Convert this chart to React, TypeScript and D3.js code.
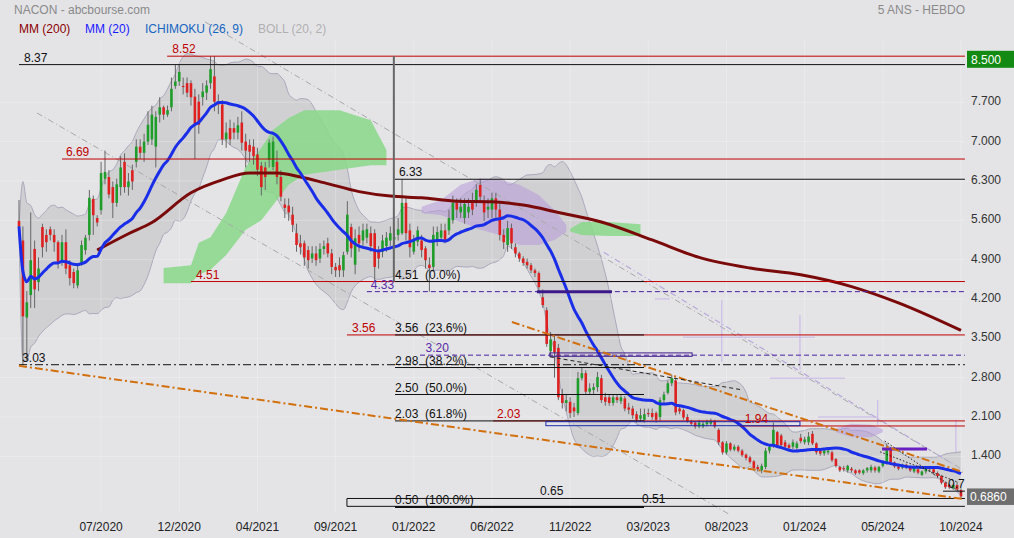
import React from "react";
import * as d3 from "d3";

// ---------- DATA (weekly bars, Mar 2020 -> Oct 2024) ----------
const OPEN = [
  5.59,5.24,3.87,4.27,5.09,4.5,5.48,5.34,5.44,5.34,
  5.21,4.89,5.21,4.8,4.68,4.44,4.84,5.07,5.34,5.98,
  5.64,5.78,6.34,6.37,6.19,5.91,6.19,6.64,6.19,6.49,
  6.64,6.91,6.8,7.0,7.04,6.91,7.48,7.61,7.48,7.61,
  7.99,8.07,7.99,8.04,8.04,7.8,7.71,7.79,7.87,8.04,
  8.16,7.71,7.66,7.04,7.24,7.24,7.16,7.34,7.0,6.94,
  6.91,6.77,6.57,6.54,6.68,6.55,6.64,6.37,5.88,5.86,
  5.7,5.37,5.19,5.19,5.07,4.92,5.01,4.92,5.09,5.19,
  5.01,4.77,4.8,4.71,5.04,5.48,4.81,5.34,5.24,5.29,
  5.37,5.37,5.04,5.04,5.14,5.24,5.26,5.34,5.37,5.91,
  5.42,5.04,5.22,5.24,5.1,4.81,4.77,5.24,5.29,5.42,
  5.42,5.6,5.91,5.74,5.64,5.74,5.94,5.94,6.23,5.94,
  5.79,5.79,5.99,5.79,5.34,5.16,5.46,5.12,5.01,4.92,
  4.86,4.8,4.71,4.66,4.23,4.0,3.27,3.45,3.33,2.49,
  2.35,2.37,2.27,2.17,2.79,2.88,2.55,2.58,2.63,2.79,
  2.45,2.45,2.35,2.45,2.38,2.43,2.27,2.25,2.15,2.07,
  2.05,2.17,2.17,2.17,2.1,2.4,2.53,2.7,2.75,2.25,
  2.22,2.1,2.02,2.0,1.93,1.93,1.97,1.98,2.02,1.87,
  1.65,1.47,1.63,1.52,1.57,1.5,1.43,1.38,1.31,1.21,
  1.15,1.21,1.5,1.6,1.83,1.77,1.65,1.6,1.57,1.55,
  1.73,1.65,1.65,1.8,1.63,1.5,1.45,1.47,1.47,1.35,
  1.21,1.19,1.15,1.18,1.15,1.15,1.1,1.15,1.15,1.2,
  1.13,1.23,1.29,1.53,1.29,1.22,1.2,1.25,1.2,1.13,
  1.17,1.07,1.13,1.21,1.17,1.1,1.05,0.93,0.89,0.83,
  0.89,0.8,
];
const HIGH = [
  5.96,5.49,4.34,5.74,5.24,4.94,5.54,5.44,5.49,5.44,
  5.24,5.34,5.44,4.89,4.74,4.84,5.24,5.34,6.14,6.04,
  5.69,6.64,6.84,6.49,6.29,6.34,6.74,6.79,6.44,6.59,
  7.04,7.04,7.14,7.54,7.64,7.54,7.79,7.64,7.64,8.14,
  8.37,8.37,8.14,8.14,8.09,7.94,7.84,8.04,8.09,8.52,
  8.52,7.84,7.74,7.34,7.39,7.34,7.44,7.54,7.14,7.04,
  7.04,6.89,6.64,6.64,7.04,7.09,6.84,6.49,5.99,5.99,
  5.84,5.54,5.34,5.24,5.14,5.14,5.14,5.19,5.24,5.29,
  5.09,4.84,4.94,5.04,5.94,5.54,5.44,5.49,5.54,5.54,
  5.49,5.44,5.14,5.34,5.39,5.49,5.44,5.64,6.33,5.99,
  5.54,5.34,5.49,5.34,5.14,4.94,5.49,5.49,5.54,5.54,
  5.79,6.04,5.99,5.99,5.99,5.99,6.09,6.24,6.33,6.04,
  5.99,6.09,6.09,5.94,5.44,5.59,5.54,5.19,5.04,4.96,
  4.92,4.84,4.74,4.69,4.37,4.05,3.61,3.55,3.4,2.6,
  2.5,2.45,2.35,2.9,2.98,2.93,2.7,2.7,2.9,2.85,
  2.53,2.5,2.5,2.5,2.5,2.47,2.35,2.3,2.2,2.25,
  2.25,2.25,2.25,2.2,2.45,2.55,2.75,2.85,2.8,2.3,
  2.25,2.15,2.05,2.03,2.05,2.02,2.05,2.07,2.05,1.9,
  1.67,1.67,1.65,1.61,1.6,1.53,1.45,1.41,1.33,1.25,
  1.27,1.55,1.61,2.0,1.85,1.8,1.69,1.63,1.7,1.67,
  1.8,1.75,1.83,1.85,1.65,1.53,1.55,1.55,1.5,1.37,
  1.23,1.23,1.25,1.21,1.17,1.17,1.17,1.21,1.25,1.23,
  1.23,1.33,1.63,1.57,1.31,1.25,1.27,1.27,1.23,1.23,
  1.2,1.15,1.23,1.23,1.19,1.13,1.07,0.95,0.91,0.91,
  0.95,0.83,
];
const LOW = [
  5.34,3.03,3.1,4.04,4.04,4.34,4.94,5.04,5.24,5.04,
  4.74,4.79,4.64,4.44,4.39,4.39,4.79,4.99,5.24,5.34,
  5.49,5.7,6.24,5.99,5.64,5.84,6.04,6.09,6.04,6.14,
  6.54,6.69,6.64,6.94,6.94,6.54,7.34,7.39,7.44,7.54,
  7.94,7.99,7.84,7.79,7.64,6.69,7.14,7.64,7.74,7.94,
  7.54,7.49,6.94,6.89,6.94,7.04,7.04,6.84,6.54,6.64,
  6.59,6.39,6.04,6.14,6.54,6.49,6.24,5.94,5.64,5.59,
  5.39,5.04,4.99,4.79,4.74,4.84,4.79,4.84,4.99,4.94,
  4.64,4.59,4.59,4.59,4.99,4.94,4.64,5.04,5.14,5.19,
  5.04,4.51,4.74,4.94,5.04,5.14,5.14,5.24,5.34,5.24,
  4.94,4.99,5.14,4.94,4.74,4.33,4.69,5.14,5.24,5.19,
  5.34,5.54,5.64,5.64,5.54,5.64,5.69,5.84,5.94,5.59,
  5.64,5.64,5.64,5.24,5.09,5.04,5.09,4.94,4.86,4.79,
  4.74,4.66,4.59,4.34,4.04,3.35,3.2,2.8,2.4,2.25,
  2.2,2.08,2.1,2.13,2.75,2.5,2.5,2.5,2.55,2.35,
  2.3,2.3,2.3,2.35,2.33,2.2,2.15,2.07,2.0,2.03,
  2.0,2.1,2.05,2.0,2.03,2.35,2.5,2.65,2.13,2.15,
  2.05,2.0,1.95,1.89,1.9,1.9,1.93,1.95,1.9,1.6,
  1.43,1.43,1.49,1.49,1.47,1.39,1.33,1.27,1.15,1.13,
  1.1,1.17,1.45,1.55,1.55,1.55,1.53,1.51,1.53,1.51,
  1.63,1.61,1.6,1.6,1.43,1.41,1.41,1.43,1.3,1.2,
  1.12,1.13,1.11,1.11,1.07,1.08,1.07,1.11,1.11,1.11,
  1.1,1.2,1.25,1.25,1.19,1.15,1.17,1.17,1.12,1.1,
  1.08,1.05,1.09,1.13,1.07,1.02,0.9,0.82,0.82,0.81,
  0.79,0.66,
];
const CLOSE = [
  5.49,3.89,4.14,4.89,4.37,4.74,5.12,5.21,5.34,5.21,
  4.84,5.21,4.74,4.57,4.48,4.71,5.16,5.29,6.0,5.69,
  5.56,6.44,6.46,6.06,5.91,6.24,6.54,6.19,6.29,6.29,
  6.91,6.8,7.0,7.3,7.48,7.44,7.61,7.48,7.56,7.94,
  8.07,8.24,7.97,7.87,7.79,7.3,7.3,7.89,8.0,8.29,
  7.71,7.66,7.04,7.16,7.04,7.16,7.29,6.98,6.84,6.82,
  6.74,6.5,6.19,6.37,6.98,7.0,6.37,6.02,5.82,5.74,
  5.52,5.16,5.12,4.94,4.89,5.01,4.89,5.09,5.14,5.01,
  4.77,4.71,4.71,4.98,5.7,5.1,5.28,5.19,5.42,5.44,
  5.14,4.77,4.92,5.24,5.29,5.37,5.3,5.44,5.91,5.37,
  5.12,5.24,5.42,5.07,4.89,4.75,5.34,5.39,5.42,5.24,
  5.64,5.91,5.79,5.84,5.89,5.84,5.79,6.14,6.02,5.74,
  5.84,5.99,5.79,5.34,5.21,5.46,5.19,5.01,4.92,4.84,
  4.8,4.71,4.66,4.41,4.09,3.4,3.48,3.25,2.45,2.35,
  2.4,2.17,2.2,2.79,2.88,2.55,2.61,2.63,2.81,2.4,
  2.37,2.35,2.45,2.4,2.45,2.25,2.23,2.13,2.05,2.13,
  2.15,2.15,2.1,2.05,2.4,2.5,2.7,2.79,2.18,2.2,
  2.09,2.03,1.98,1.93,2.0,1.98,2.01,2.03,1.93,1.65,
  1.47,1.63,1.52,1.57,1.5,1.42,1.37,1.3,1.19,1.17,
  1.23,1.5,1.57,1.87,1.57,1.6,1.57,1.55,1.65,1.63,
  1.67,1.7,1.75,1.63,1.47,1.45,1.5,1.5,1.33,1.23,
  1.15,1.17,1.23,1.15,1.1,1.11,1.15,1.19,1.21,1.15,
  1.21,1.29,1.53,1.29,1.22,1.18,1.25,1.2,1.15,1.2,
  1.11,1.13,1.21,1.17,1.11,1.05,0.93,0.85,0.85,0.89,
  0.81,0.686,
];

const DATE_TICK_IDX = [21, 41, 61, 81, 101, 121, 141, 161, 181, 201, 221, 241];
const DATE_TICK_LABELS = ["07/2020","12/2020","04/2021","09/2021","01/2022","06/2022","11/2022","03/2023","08/2023","01/2024","05/2024","10/2024"];
const PRICE_TICKS = [7.7, 7.0, 6.3, 5.6, 4.9, 4.2, 3.5, 2.8, 2.1, 1.4];
const LAST_PRICE = 0.686;
const TOP_PRICE = 8.5;

// MM(200): [bar index, value]
const MM200 = [
  [20,5.07],[28,5.36],[34,5.56],[44,6.09],[52,6.32],[59,6.44],[66,6.44],[72,6.37],
  [78,6.27],[87,6.11],[95,6.03],[103,6.0],[112,5.94],[121,5.93],[129,5.87],[138,5.74],
  [149,5.57],[162,5.25],[174,4.94],[187,4.75],[200,4.63],[213,4.42],[225,4.13],[241,3.64],
];

// Ichimoku cloud segments: [bar index, senkou A, senkou B]
const CLOUD_1 = [[37,4.75,4.48],[44,4.8,4.48],[46,5.2,4.63],[49,5.3,4.72],[53,5.73,4.98],[58,6.55,5.43],[62,6.89,5.6],[65,7.21,5.87],[69,7.42,6.23],[73,7.56,6.41],[82,7.56,6.5],[90,7.38,6.58],[94,6.85,6.58]];
const CLOUD_2 = [[103,5.73,5.84],[108,5.69,5.96],[113,5.57,6.23],[118,5.43,6.35],[123,5.34,6.32],[128,5.16,6.23],[133,5.16,6.05],[137,5.25,5.78],[140,5.39,5.52]];
const CLOUD_3 = [[141,5.45,5.4],[144,5.57,5.34],[151,5.57,5.32],[159,5.53,5.32]];
const CLOUD_4 = [[209,1.83,1.9],[213,1.74,1.98],[218,1.74,1.96],[221,1.83,1.88]];

// Horizontal levels: [value, fromIdx, toIdx, labelIdx]
const RED_LEVELS = [[8.52,37.9,242,39.2],[6.69,11,242,12],[4.51,44,242,45.3],[3.56,83.9,242,85.2],[2.03,121.3,242,122.3],[1.94,184.4,242,185.7]];
const BLACK_LEVELS = [[8.37,0,242,1.3],[6.33,96.2,242,97.2],[0.65,83.9,242,133.3],[0.51,83.9,242,159.4]];
const PURPLE_LEVELS = [[4.33,89,242,90],[3.20,102.6,242,104]];
const DASHDOT_LEVEL = [3.03, 0, 242, 0.8];
const FIB_VALUES = [4.51, 3.56, 2.98, 2.50, 2.03, 0.50];
const FIB_PCTS = ["0.0%", "23.6%", "38.2%", "50.0%", "61.8%", "100.0%"];
const FIB_RANGE = [96.2, 159.9];
const FIB_ANCHOR = [95.9, 8.52, 4.51];
const SHORT_LEVEL = [0.78, 236.4, 242, "0.7"];

// Rectangles: [fromIdx, toIdx, top, bottom]
const RECT_PURPLE = [135.8, 172.2, 3.24, 3.18];
const RECT_BLUE = [134.8, 199.8, 2.016, 1.945];
const BOX_EDGE = [83.9, 0.65, 0.51];
const THICK_SEGMENTS = [[4.33, 132.5, 151.7, "#3d1a8a"], [1.53, 220.8, 232.3, "#6a1fc0"]];

// Trend lines: [idx1, v1, idx2, v2]
const ORANGE_LINES = [[0, 3.01, 241.5, 0.64], [126.1, 3.79, 241.5, 1.12]];
const GRAY_LINES = [[47.6, 9.13, 241.5, 1.16], [4.6, 7.51, 181.9, 0.36]];
const LAVENDER_DASH = [[149.6, 5.03, 238.3, 1.29]];
const BLACK_DASHED = [[135.8, 3.17, 185.2, 2.58]];
const BLACK_DOTTED = [[221.5, 1.67, 241.5, 0.73], [220.3, 1.48, 240.2, 0.94]];
const LAVENDER_SEGS = [
  [179.8, 4.18, 179.8, 3.08], [169.9, 3.52, 203.6, 3.52], [199.8, 3.91, 199.8, 2.94],
  [192.1, 2.79, 211.3, 2.79], [162.7, 4.2, 166.5, 4.2], [204.4, 2.1, 219.7, 2.1],
  [219.7, 2.4, 219.7, 1.96], [239.7, 2.05, 239.7, 1.48],
];

const W = 1014, H = 538;
const FONT = "'Liberation Sans', Arial, Helvetica, sans-serif";

export default function App() {
  const x = d3.scaleLinear().domain([0, 241]).range([19, 961]);
  const y = d3.scaleLinear().domain([0, 8.5]).range([535, 57.3]);
  const n = CLOSE.length;

  const mm20 = CLOSE.map((_, i) => d3.mean(CLOSE.slice(Math.max(0, i - 19), i + 1)) as number);
  const sd20 = CLOSE.map((_, i) => {
    const w = CLOSE.slice(Math.max(0, i - 19), i + 1);
    const m = d3.mean(w) as number;
    return Math.sqrt(d3.mean(w, (v) => (v - m) * (v - m)) as number);
  });
  const idxs = d3.range(n);

  const bandArea = d3.area<number>().x((i) => x(i)).y0((i) => y(mm20[i] - 2 * sd20[i])).y1((i) => y(mm20[i] + 2 * sd20[i])).curve(d3.curveMonotoneX);
  const upperLine = d3.line<number>().x((i) => x(i)).y((i) => y(mm20[i] + 2 * sd20[i])).curve(d3.curveMonotoneX);
  const lowerLine = d3.line<number>().x((i) => x(i)).y((i) => y(mm20[i] - 2 * sd20[i])).curve(d3.curveMonotoneX);
  const mm20Line = d3.line<number>().x((i) => x(i)).y((i) => y(mm20[i])).curve(d3.curveMonotoneX);
  const mm200Line = d3.line<number[]>().x((d) => x(d[0])).y((d) => y(d[1])).curve(d3.curveMonotoneX);
  const cloudArea = d3.area<number[]>().x((d) => x(d[0])).y0((d) => y(d[1])).y1((d) => y(d[2]));

  const bw = 2.6;
  const seg = (s: number[], key: string, stroke: string, sw: number, dash?: string) => (
    <line key={key} x1={x(s[0])} y1={y(s[1])} x2={x(s[2])} y2={y(s[3])} stroke={stroke} strokeWidth={sw} strokeDasharray={dash} />
  );
  const hline = (v: number, a: number, b: number, key: string, stroke: string, sw = 1, dash?: string) => (
    <line key={key} x1={x(a)} x2={x(b)} y1={y(v)} y2={y(v)} stroke={stroke} strokeWidth={sw} strokeDasharray={dash} />
  );

  return (
    <svg width={W} height={H} style={{ position: "absolute", left: 0, top: 0, display: "block" }} fontFamily={FONT}>
      <rect x={0} y={0} width={W} height={H} fill="#e4e4e7" />

      {/* Bollinger band */}
      <path d={bandArea(idxs) || ""} fill="#c4c4c6" fillOpacity={0.62} />
      <path d={upperLine(idxs) || ""} fill="none" stroke="#a9a9ba" strokeWidth={1} />
      <path d={lowerLine(idxs) || ""} fill="none" stroke="#a9a9ba" strokeWidth={1} />

      {/* grid */}
      {DATE_TICK_IDX.map((i) => (
        <line key={"gx" + i} x1={x(i)} x2={x(i)} y1={40} y2={512} stroke="#ffffff" strokeOpacity={0.25} />
      ))}
      {PRICE_TICKS.map((v) => (
        <line key={"gy" + v} x1={0} x2={965} y1={y(v)} y2={y(v)} stroke="#ffffff" strokeOpacity={0.25} />
      ))}

      {/* Ichimoku cloud */}
      <path d={cloudArea(CLOUD_1) || ""} fill="#8ad88a" fillOpacity={0.85} />
      <path d={cloudArea(CLOUD_2) || ""} fill="#b79ad8" fillOpacity={0.55} />
      <path d={cloudArea(CLOUD_3) || ""} fill="#8ad88a" fillOpacity={0.85} />
      <path d={cloudArea(CLOUD_4) || ""} fill="#b79ad8" fillOpacity={0.55} />

      {/* trend lines */}
      {GRAY_LINES.map((s, i) => seg(s, "gl" + i, "#a8a8a8", 1, "6,3,1,3"))}
      {LAVENDER_DASH.map((s, i) => seg(s, "ld" + i, "#b8a8d8", 1.2, "6,3,1,3"))}
      {LAVENDER_SEGS.map((s, i) => seg(s, "ls" + i, "#c6b4e6", 1))}

      {/* candles */}
      {idxs.map((i) => {
        const up = CLOSE[i] >= OPEN[i];
        const top = y(Math.max(OPEN[i], CLOSE[i]));
        const bot = y(Math.min(OPEN[i], CLOSE[i]));
        return (
          <g key={"c" + i}>
            <line x1={x(i)} x2={x(i)} y1={y(HIGH[i])} y2={y(LOW[i])} stroke="#666" strokeWidth={1} />
            <rect x={x(i) - bw / 2} y={top} width={bw} height={Math.max(1, bot - top)} fill={up ? "#1f9d2a" : "#dd2020"} />
          </g>
        );
      })}

      {/* moving averages */}
      <path d={mm200Line(MM200) || ""} fill="none" stroke="#7a0a0a" strokeWidth={3} />
      <path d={mm20Line(idxs) || ""} fill="none" stroke="#1a2ee8" strokeWidth={3} />

      {/* levels */}
      {RED_LEVELS.map((l, i) => hline(l[0], l[1], l[2], "rl" + i, "#c00000"))}
      {BLACK_LEVELS.map((l, i) => hline(l[0], l[1], l[2], "bl" + i, "#111"))}
      {PURPLE_LEVELS.map((l, i) => hline(l[0], l[1], l[2], "pl" + i, "#4b20a0", 1, "5,3"))}
      {hline(DASHDOT_LEVEL[0], DASHDOT_LEVEL[1], DASHDOT_LEVEL[2], "dd", "#111", 1, "8,3,2,3")}
      {FIB_VALUES.map((v, i) => hline(v, FIB_RANGE[0], FIB_RANGE[1], "fb" + i, "#111", i === FIB_VALUES.length - 1 ? 2 : 1))}
      <line x1={x(FIB_ANCHOR[0])} x2={x(FIB_ANCHOR[0])} y1={y(FIB_ANCHOR[1])} y2={y(FIB_ANCHOR[2])} stroke="#666" strokeWidth={2} />
      <line x1={x(BOX_EDGE[0])} x2={x(BOX_EDGE[0])} y1={y(BOX_EDGE[1])} y2={y(BOX_EDGE[2])} stroke="#111" strokeWidth={1} />
      {hline(SHORT_LEVEL[0] as number, SHORT_LEVEL[1] as number, SHORT_LEVEL[2] as number, "sh", "#111")}
      <rect x={x(RECT_PURPLE[0])} y={y(RECT_PURPLE[2])} width={x(RECT_PURPLE[1]) - x(RECT_PURPLE[0])} height={y(RECT_PURPLE[3]) - y(RECT_PURPLE[2])} fill="none" stroke="#3d1a8a" strokeWidth={1} />
      <rect x={x(RECT_BLUE[0])} y={y(RECT_BLUE[2])} width={x(RECT_BLUE[1]) - x(RECT_BLUE[0])} height={y(RECT_BLUE[3]) - y(RECT_BLUE[2])} fill="none" stroke="#1c2ab0" strokeWidth={1} />
      {THICK_SEGMENTS.map((t, i) => hline(t[0] as number, t[1] as number, t[2] as number, "ts" + i, t[3] as string, 3))}
      {ORANGE_LINES.map((s, i) => seg(s, "ol" + i, "#d2700e", 2, "8,3,2,3"))}
      {BLACK_DASHED.map((s, i) => seg(s, "bd" + i, "#222", 1, "4,3"))}
      {BLACK_DOTTED.map((s, i) => seg(s, "bdo" + i, "#222", 1, "1.5,2"))}

      {/* level labels */}
      <g fontSize={12}>
        {RED_LEVELS.map((l, i) => (
          <text key={"rt" + i} x={x(l[3])} y={y(l[0]) - 3} fill="#c00000">{l[0].toFixed(2)}</text>
        ))}
        {BLACK_LEVELS.map((l, i) => (
          <text key={"bt" + i} x={x(l[3])} y={y(l[0]) - 3} fill="#111">{l[0].toFixed(2)}</text>
        ))}
        {PURPLE_LEVELS.map((l, i) => (
          <text key={"pt" + i} x={x(l[3])} y={y(l[0]) - 3} fill="#5a2ca8">{l[0].toFixed(2)}</text>
        ))}
        <text x={x(DASHDOT_LEVEL[3])} y={y(DASHDOT_LEVEL[0]) - 3} fill="#111">{DASHDOT_LEVEL[0].toFixed(2)}</text>
        {FIB_VALUES.map((v, i) => (
          <text key={"ft" + i} x={x(FIB_RANGE[0])} y={y(v) - 3} fill="#111" style={{ whiteSpace: "pre" }}>
            {v.toFixed(2) + "  (" + FIB_PCTS[i] + ")"}
          </text>
        ))}
        <text x={x(SHORT_LEVEL[1] as number) + 5} y={y(SHORT_LEVEL[0] as number) - 3} fill="#111">{SHORT_LEVEL[3]}</text>
      </g>

      {/* header */}
      <text x={14} y={14} fontSize={12} fill="#8a8a8a">NACON - abcbourse.com</text>
      <text x={965} y={14} fontSize={12} fill="#8a8a8a" textAnchor="end">5 ANS - HEBDO</text>
      <g fontSize={12}>
        <text x={19} y={33} fill="#8b0000">MM (200)</text>
        <text x={85} y={33} fill="#1a1aff">MM (20)</text>
        <text x={145} y={33} fill="#1565c0">ICHIMOKU (26, 9)</text>
        <text x={258} y={33} fill="#b0b0b0">BOLL (20, 2)</text>
      </g>

      {/* right axis */}
      <g fontSize={12}>
        {PRICE_TICKS.map((v) => (
          <text key={"pt" + v} x={971} y={y(v) + 3} fill="#333">{v.toFixed(3)}</text>
        ))}
        <rect x={967} y={y(TOP_PRICE) - 6.5} width={47} height={17} fill="#138a13" />
        <text x={971} y={y(TOP_PRICE) + 6.5} fill="#fff">{TOP_PRICE.toFixed(3)}</text>
        <rect x={967} y={y(LAST_PRICE) - 8} width={47} height={16.5} fill="#6e6e6e" />
        <text x={970} y={y(LAST_PRICE) + 4.5} fill="#fff">{LAST_PRICE.toFixed(4)}</text>
      </g>

      {/* x axis labels */}
      <g fontSize={12}>
        {DATE_TICK_IDX.map((i, k) => (
          <text key={"dt" + i} x={x(i)} y={531} textAnchor="middle" fill="#222">{DATE_TICK_LABELS[k]}</text>
        ))}
      </g>
    </svg>
  );
}
